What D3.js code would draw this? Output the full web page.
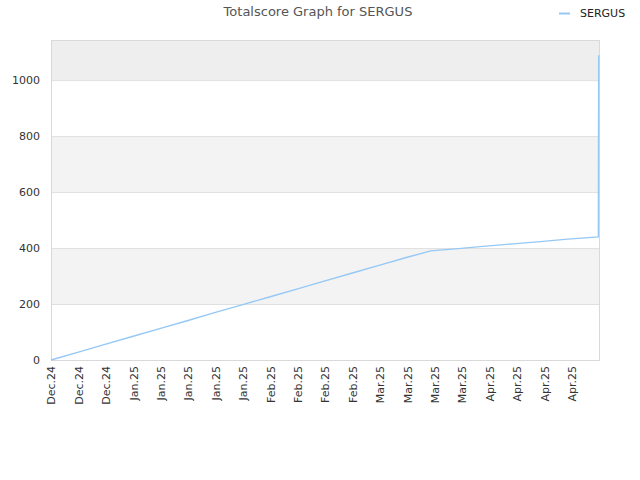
<!DOCTYPE html>
<html>
<head>
<meta charset="utf-8">
<script src="https://cdn.jsdelivr.net/npm/d3@7"></script>
<style>
  body { margin: 0; background: #fff; }
  svg { font-family: "DejaVu Sans", sans-serif; }
</style>
</head>
<body>
<svg id="chart" width="640" height="480"></svg>
<script>
const player = 'SERGUS'

// readings taken off the score curve
const dates = [
  '2024-12-11', '2024-12-18', '2024-12-25', '2025-01-01', '2025-01-08',
  '2025-01-15', '2025-01-22', '2025-01-29', '2025-02-05', '2025-02-12',
  '2025-02-19', '2025-02-26', '2025-03-05', '2025-03-12', '2025-03-18',
  '2025-03-25', '2025-04-01', '2025-04-08', '2025-04-15', '2025-04-22',
  '2025-04-29T20:00', '2025-04-29T22:00'
]
const scores = [
  0, 28, 57, 85, 113,
  141, 170, 198, 226, 254,
  283, 311, 339, 367, 390,
  398, 407, 415, 423, 432,
  440, 1089
]

const tickDates = [
  '2024-12-11', '2024-12-18', '2024-12-25', '2025-01-01', '2025-01-08',
  '2025-01-15', '2025-01-22', '2025-01-29', '2025-02-05', '2025-02-12',
  '2025-02-19', '2025-02-26', '2025-03-05', '2025-03-12', '2025-03-19',
  '2025-03-26', '2025-04-02', '2025-04-09', '2025-04-16', '2025-04-23'
]
const yTicks = [0, 200, 400, 600, 800, 1000]

const parse = d => new Date(d)
const data = dates.map((d, i) => ({ date: parse(d), score: scores[i] }))

const plotLeft = 51, plotRight = 600, plotTop = 40, plotBottom = 360

const svg = d3.select('#chart')

const x = d3.scaleTime()
  .domain([parse('2024-12-11'), parse('2025-04-30T06:00')])
  .range([plotLeft, plotRight])

const y = d3.scaleLinear()
  .domain([0, d3.max(scores) * 1.05])
  .range([plotBottom, plotTop])

// background bands
const bandEdges = yTicks.concat([y.domain()[1]])
svg.append('g').selectAll('rect')
  .data(d3.pairs(bandEdges))
  .enter().append('rect')
  .attr('x', plotLeft)
  .attr('width', plotRight - plotLeft)
  .attr('y', d => y(d[1]))
  .attr('height', d => y(d[0]) - y(d[1]))
  .attr('fill', (d, i) => i === bandEdges.length - 2 ? '#eeeeee' : (i % 2 ? '#f3f3f3' : '#ffffff'))

// grid lines
svg.append('g').selectAll('line')
  .data(yTicks.slice(1))
  .enter().append('line')
  .attr('x1', plotLeft).attr('x2', plotRight)
  .attr('y1', d => y(d) + 0.5).attr('y2', d => y(d) + 0.5)
  .attr('stroke', '#e0e0e0')

svg.append('rect')
  .attr('x', plotLeft + 0.5).attr('y', plotTop + 0.5)
  .attr('width', plotRight - plotLeft - 1).attr('height', plotBottom - plotTop)
  .attr('fill', 'none')
  .attr('stroke', '#d9d9d9')

// y axis labels
const yAxis = svg.append('g')
  .attr('transform', `translate(${plotLeft}, 0)`)
  .call(d3.axisLeft(y).tickValues(yTicks).tickSize(0).tickPadding(11).tickFormat(d3.format('d')))
yAxis.select('.domain').remove()
yAxis.selectAll('text')
  .attr('fill', '#333')
  .style('font-size', '11px')
  .style('font-family', '"DejaVu Sans", sans-serif')

// x axis labels
const xAxis = svg.append('g')
  .attr('transform', `translate(0, ${plotBottom})`)
  .call(d3.axisBottom(x).tickValues(tickDates.map(parse)).tickSize(0).tickFormat(d3.timeFormat('%b.%y')))
xAxis.select('.domain').remove()
xAxis.selectAll('text')
  .attr('fill', '#333')
  .style('font-size', '11px')
  .style('font-family', '"DejaVu Sans", sans-serif')
  .attr('text-anchor', 'end')
  .attr('dy', '0.35em')
  .attr('transform', 'translate(0, 6) rotate(-90)')
  .attr('x', 0).attr('y', 0)

// score line
const line = d3.line()
  .x(d => x(d.date))
  .y(d => y(d.score))

svg.append('path')
  .datum(data)
  .attr('fill', 'none')
  .attr('stroke', '#96c8f5')
  .attr('stroke-width', 1.4)
  .attr('d', line)

// title
svg.append('text')
  .attr('x', 318).attr('y', 16)
  .attr('text-anchor', 'middle')
  .attr('fill', '#555')
  .style('font-size', '13px')
  .text(`Totalscore Graph for ${player}`)

// legend
svg.append('line')
  .attr('x1', 559).attr('x2', 570)
  .attr('y1', 13.5).attr('y2', 13.5)
  .attr('stroke', '#96c8f5')
  .attr('stroke-width', 2)
svg.append('text')
  .attr('x', 580).attr('y', 17)
  .attr('fill', '#222')
  .style('font-size', '11px')
  .text(player)
</script>
</body>
</html>
